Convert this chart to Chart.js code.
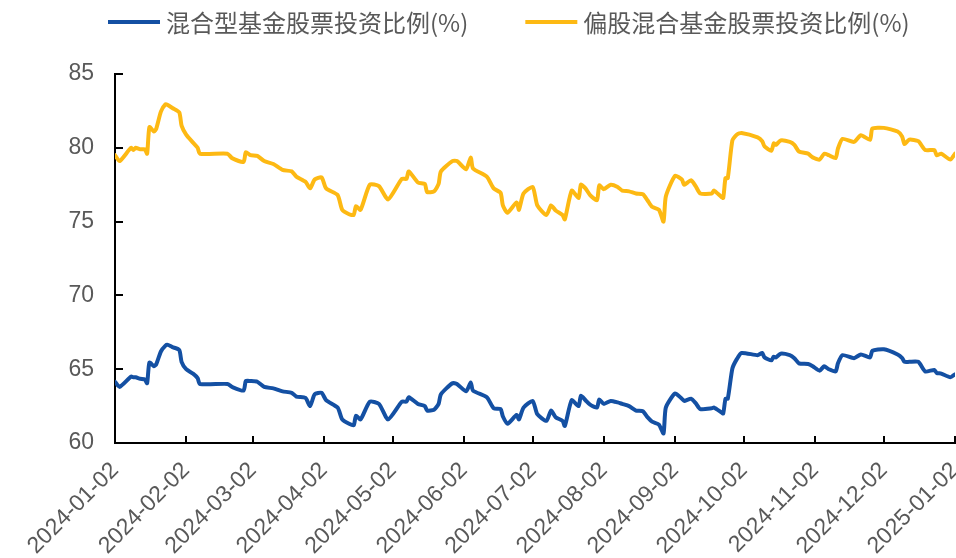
<!DOCTYPE html>
<html>
<head>
<meta charset="utf-8">
<script src="https://cdn.jsdelivr.net/npm/chart.js@4.4.1/dist/chart.umd.min.js"></script>
<style>
  html, body { margin: 0; padding: 0; background: #fff; }
  #box { width: 956px; height: 558px; }
</style>
</head>
<body>
<div id="box"><canvas id="grafico" width="956" height="558"></canvas></div>
<script>
// series names
var nomes = ['混合型基金股票投资比例(%)', '偏股混合基金股票投资比例(%)'];

// tick labels of the date axis
var datasEixo = ['2024-01-02', '2024-02-02', '2024-03-02', '2024-04-02', '2024-05-02', '2024-06-02',
  '2024-07-02', '2024-08-02', '2024-09-02', '2024-10-02', '2024-11-02', '2024-12-02', '2025-01-02'];

// sample dates
var datas = [
  '2024-01-02', '2024-01-04', '2024-01-09', '2024-01-10', '2024-01-11', '2024-01-13', '2024-01-15', '2024-01-16', '2024-01-17', '2024-01-19', '2024-01-20', '2024-01-22', '2024-01-24', '2024-01-25', '2024-01-27', '2024-01-30', '2024-01-31',
  '2024-02-02', '2024-02-05', '2024-02-07', '2024-02-08', '2024-02-20', '2024-02-22', '2024-02-27', '2024-02-28',
  '2024-03-01', '2024-03-04', '2024-03-07', '2024-03-11', '2024-03-15', '2024-03-19', '2024-03-21', '2024-03-25', '2024-03-27', '2024-03-29',
  '2024-04-01', '2024-04-03', '2024-04-08', '2024-04-10', '2024-04-13', '2024-04-15', '2024-04-16', '2024-04-18', '2024-04-22', '2024-04-26', '2024-04-30',
  '2024-05-06', '2024-05-08', '2024-05-09', '2024-05-13', '2024-05-16', '2024-05-17', '2024-05-20', '2024-05-22', '2024-05-23', '2024-05-28', '2024-05-30',
  '2024-06-03', '2024-06-05', '2024-06-06', '2024-06-12', '2024-06-15', '2024-06-18', '2024-06-19', '2024-06-21', '2024-06-25', '2024-06-26', '2024-06-28',
  '2024-07-02', '2024-07-04', '2024-07-08', '2024-07-10', '2024-07-12', '2024-07-15', '2024-07-16', '2024-07-19', '2024-07-22', '2024-07-23', '2024-07-25', '2024-07-27', '2024-07-30', '2024-07-31',
  '2024-08-02', '2024-08-05', '2024-08-08', '2024-08-10', '2024-08-13', '2024-08-16', '2024-08-19', '2024-08-21', '2024-08-23', '2024-08-26', '2024-08-28', '2024-08-29',
  '2024-09-02', '2024-09-05', '2024-09-06', '2024-09-09', '2024-09-11', '2024-09-13', '2024-09-18', '2024-09-19', '2024-09-22', '2024-09-23', '2024-09-24', '2024-09-25', '2024-09-27', '2024-09-29',
  '2024-10-01', '2024-10-08', '2024-10-10', '2024-10-11', '2024-10-14', '2024-10-15', '2024-10-16', '2024-10-18', '2024-10-22', '2024-10-24', '2024-10-26', '2024-10-30',
  '2024-11-01', '2024-11-04', '2024-11-06', '2024-11-08', '2024-11-11', '2024-11-12', '2024-11-14', '2024-11-19', '2024-11-22', '2024-11-26', '2024-11-27',
  '2024-12-02', '2024-12-08', '2024-12-10', '2024-12-11', '2024-12-13', '2024-12-17', '2024-12-20', '2024-12-24', '2024-12-25', '2024-12-27', '2024-12-31',
  '2025-01-02'
];

// 混合型基金股票投资比例
var misto = [
  64.15, 63.8, 64.5, 64.45, 64.45, 64.35, 64.3, 64.05, 65.45, 65.2, 65.35, 66.2, 66.6, 66.65, 66.5, 66.3, 65.5,
  65.0, 64.7, 64.4, 64.0, 64.0, 63.8, 63.55, 64.2,
  64.2, 64.15, 63.8, 63.7, 63.5, 63.4, 63.15, 63.05, 62.5, 63.3,
  63.4, 62.9, 62.4, 61.6, 61.3, 61.2, 61.85, 61.6, 62.8, 62.65, 61.6,
  62.8, 62.8, 63.1, 62.65, 62.5, 62.2, 62.25, 62.65, 63.3, 64.05, 64.0,
  63.5, 64.1, 63.55, 63.1, 62.35, 62.3, 61.8, 61.3, 61.9, 61.6, 62.4,
  62.85, 61.95, 61.5, 62.2, 61.75, 61.5, 61.15, 62.9, 62.5, 63.2, 62.9, 62.6, 62.4, 62.95,
  62.65, 62.85, 62.75, 62.65, 62.5, 62.2, 62.15, 61.75, 61.45, 61.25, 60.65, 62.4,
  63.35, 63.0, 62.85, 63.0, 62.7, 62.3, 62.35, 62.4, 62.1, 62.0, 63.0, 63.0, 65.05, 65.7,
  66.1, 65.95, 66.1, 65.8, 65.6, 65.85, 65.8, 66.05, 65.95, 65.75, 65.4, 65.35,
  65.2, 64.9, 65.2, 65.0, 64.85, 65.4, 65.95, 65.75, 66.0, 65.8, 66.25,
  66.35, 66.0, 65.75, 65.5, 65.5, 65.5, 64.85, 64.95, 64.75, 64.7, 64.45,
  64.65
];

// 偏股混合基金股票投资比例
var acoes = [
  79.5, 79.1, 80.0, 79.85, 80.0, 79.9, 79.9, 79.6, 81.4, 81.1, 81.3, 82.45, 82.95, 82.9, 82.7, 82.4, 81.5,
  80.9, 80.35, 80.0, 79.6, 79.6, 79.3, 79.05, 79.7,
  79.5, 79.45, 79.1, 78.9, 78.5, 78.4, 78.05, 77.7, 77.25, 77.85,
  78.0, 77.25, 76.8, 75.8, 75.5, 75.45, 76.05, 75.8, 77.5, 77.4, 76.5,
  77.9, 77.9, 78.4, 77.65, 77.55, 77.0, 77.05, 77.55, 78.4, 79.1, 79.1,
  78.55, 79.35, 78.6, 78.05, 77.25, 76.95, 76.1, 75.6, 76.3, 75.8, 76.9,
  77.35, 76.1, 75.45, 76.1, 75.75, 75.45, 75.15, 77.1, 76.6, 77.5, 77.25, 76.8, 76.45, 77.45,
  77.2, 77.5, 77.35, 77.1, 77.05, 76.9, 76.85, 76.45, 76.0, 75.8, 75.0, 76.7,
  78.1, 77.85, 77.5, 77.8, 77.4, 76.9, 76.9, 77.1, 76.7, 76.6, 77.95, 77.95, 80.5, 80.9,
  81.0, 80.7, 80.45, 80.1, 79.8, 80.3, 80.2, 80.5, 80.4, 80.2, 79.75, 79.6,
  79.35, 79.2, 79.6, 79.5, 79.3, 79.95, 80.6, 80.4, 80.85, 80.55, 81.3,
  81.35, 81.1, 80.75, 80.25, 80.55, 80.45, 79.85, 79.85, 79.5, 79.6, 79.2,
  79.6
];

var cores = ['#1450A3', '#FDB913'];
var corTexto = '#595959';

// days counted from the first axis date
var inicio = Date.parse(datasEixo[0]);
function diaDe(d) {
  return Math.round((Date.parse(d) - inicio) / 86400000);
}
function pontos(valores) {
  return valores.map(function (v, i) { return { x: diaDe(datas[i]), y: v }; });
}
var ticksX = datasEixo.map(diaDe);

// small tick marks that point into the plot
var marcasDentro = {
  id: 'marcasDentro',
  afterDraw: function (chart) {
    var ctx = chart.ctx;
    var x = chart.scales.x, y = chart.scales.y;
    ctx.save();
    ctx.strokeStyle = '#000';
    ctx.lineWidth = 2;
    ctx.beginPath();
    y.ticks.forEach(function (t) {
      var py = Math.round(y.getPixelForValue(t.value));
      ctx.moveTo(y.right, py);
      ctx.lineTo(y.right + 8, py);
    });
    x.ticks.forEach(function (t) {
      var px = Math.round(x.getPixelForValue(t.value));
      ctx.moveTo(px, x.top);
      ctx.lineTo(px, x.top - 7);
    });
    ctx.stroke();
    ctx.restore();
  }
};

// legend on top, line sample + text
var legenda = {
  id: 'legenda',
  afterDraw: function (chart) {
    var ctx = chart.ctx;
    var x = 108, yy = 22;
    ctx.save();
    ctx.font = '24px "Noto Sans CJK SC"';
    ctx.textBaseline = 'middle';
    ctx.textAlign = 'left';
    chart.data.datasets.forEach(function (ds) {
      ctx.strokeStyle = ds.borderColor;
      ctx.lineWidth = 4;
      ctx.beginPath();
      ctx.moveTo(x, yy);
      ctx.lineTo(x + 52, yy);
      ctx.stroke();
      ctx.fillStyle = corTexto;
      ctx.fillText(ds.label, x + 58, yy + 1);
      x += 58 + ctx.measureText(ds.label).width + 57;
    });
    ctx.restore();
  }
};

var config = {
  type: 'line',
  data: {
    datasets: [{
      label: nomes[0],
      data: pontos(misto),
      borderColor: cores[0],
      backgroundColor: cores[0],
      borderWidth: 4,
      pointRadius: 0,
      tension: 0.2,
      borderJoinStyle: 'round',
      borderCapStyle: 'round'
    }, {
      label: nomes[1],
      data: pontos(acoes),
      borderColor: cores[1],
      backgroundColor: cores[1],
      borderWidth: 4,
      pointRadius: 0,
      tension: 0.2,
      borderJoinStyle: 'round',
      borderCapStyle: 'round'
    }]
  },
  options: {
    responsive: false,
    animation: false,
    layout: { padding: { top: 74, right: 1, left: 0, bottom: 0 } },
    plugins: {
      legend: { display: false },
      tooltip: { enabled: false }
    },
    scales: {
      x: {
        type: 'linear',
        min: ticksX[0],
        max: ticksX[ticksX.length - 1],
        grid: { display: false, drawTicks: false },
        border: { display: true, color: '#000', width: 2 },
        afterBuildTicks: function (scale) {
          scale.ticks = ticksX.map(function (v) { return { value: v }; });
        },
        afterFit: function (scale) {
          scale.height = 115;
          scale.paddingLeft = 0;
          scale.paddingRight = 0;
        },
        ticks: {
          autoSkip: false,
          minRotation: 45,
          maxRotation: 45,
          padding: 14,
          color: corTexto,
          font: { family: '"Liberation Sans", Arial', size: 23 },
          callback: function (v) {
            var i = ticksX.indexOf(v);
            return i >= 0 ? datasEixo[i] : '';
          }
        }
      },
      y: {
        min: 60,
        max: 85,
        grid: { display: false, drawTicks: false },
        border: { display: true, color: '#000', width: 2 },
        afterFit: function (scale) {
          scale.width = 115;
          scale.paddingTop = 0;
          scale.paddingBottom = 0;
        },
        ticks: {
          stepSize: 5,
          padding: 21,
          color: corTexto,
          font: { family: '"Liberation Sans", Arial', size: 23 }
        }
      }
    }
  },
  plugins: [marcasDentro, legenda]
};

window.grafico = new Chart(document.getElementById('grafico'), config);
</script>
</body>
</html>
